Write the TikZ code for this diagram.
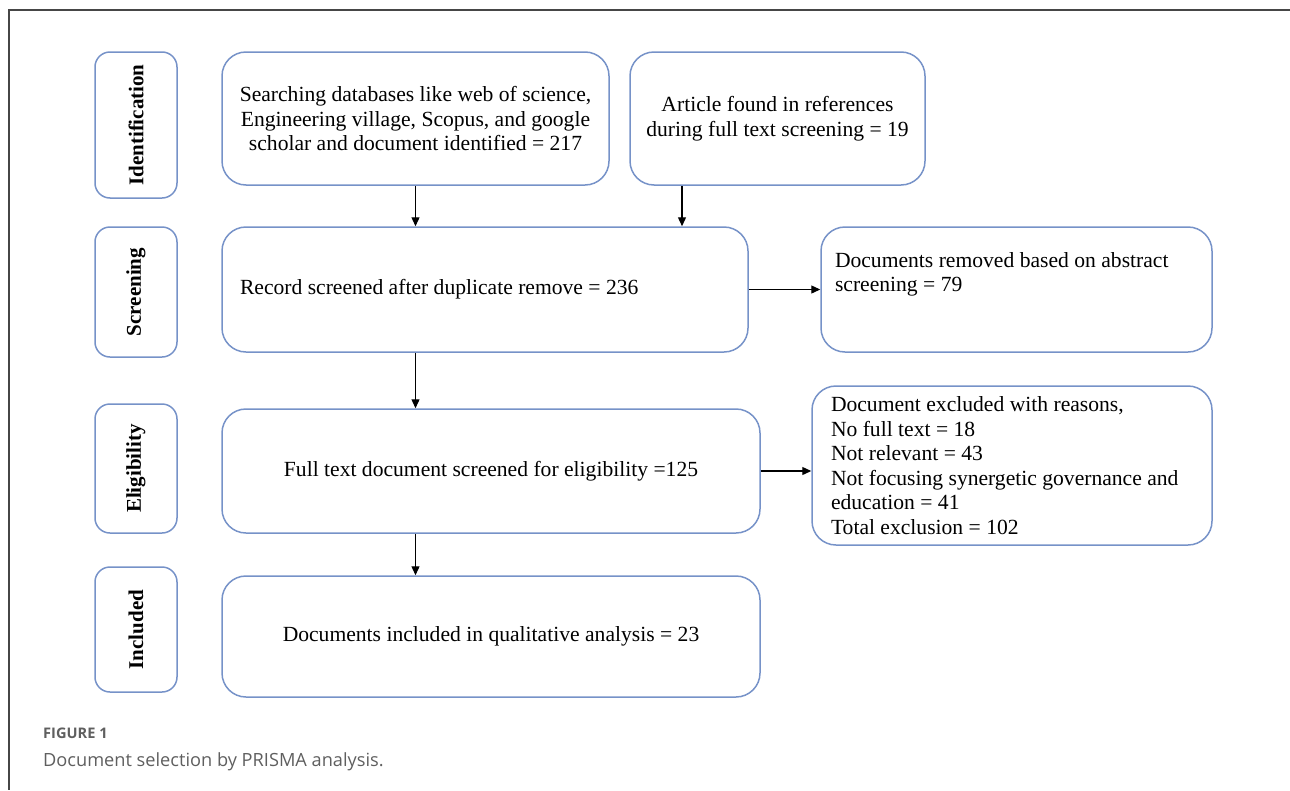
\documentclass[tikz,border=0pt]{standalone}
\usepackage{fontspec}
\setmainfont{Liberation Serif}
\newfontfamily\capfont{Open Sans}
\usetikzlibrary{arrows.meta,calc}
\definecolor{boxblue}{RGB}{118,146,200}
\definecolor{capgray}{RGB}{95,95,95}
\definecolor{framegray}{RGB}{70,70,70}
\newcommand{\lefttext}[2]{\parbox[c]{#1}{\raggedright #2}}
\begin{document}
\begin{tikzpicture}[x=1pt,y=-1pt,
  every node/.style={font=\fontsize{21.6}{24.5}\selectfont, inner sep=0pt},
  stagebox/.style={draw=boxblue, line width=1.5pt, rounded corners=15pt, minimum width=82pt, font=\fontsize{21}{24.5}\selectfont\bfseries},
  bigbox/.style={draw=boxblue, line width=1.5pt, rounded corners=24pt},
  arr/.style={line width=1.3pt, -{Triangle[length=9pt,width=8pt]}}
]
\useasboundingbox (0,0) rectangle (1290,790);
% frame
\draw[framegray, line width=2pt] (1290,10) -- (9,10) -- (9,790);

% stage boxes
\node[stagebox, minimum height=146pt] (sid) at (136,125) {\rotatebox{90}{Identification}};
\node[stagebox, minimum height=130pt] (ssc) at (136,292) {\rotatebox{90}{Screening}};
\node[stagebox, minimum height=129pt] (sel) at (136,468.5) {\rotatebox{90}{Eligibility}};
\node[stagebox, minimum height=125pt] (sin) at (136,629.5) {\rotatebox{90}{Included}};

% main boxes
\node[bigbox, minimum width=387pt, minimum height=133pt, align=center] (A) at (415.5,118.5)
  {Searching databases like web of science,\\Engineering village, Scopus, and google\\scholar and document identified = 217};
\node[bigbox, minimum width=295pt, minimum height=133pt, align=center] (B) at (777.5,118.5)
  {Article found in references\\during full text screening = 19};
\node[bigbox, minimum height=125pt, inner xsep=18pt] (S) at (485,289.5)
  {\lefttext{490pt}{Record screened after duplicate remove = 236}};
\node[bigbox, minimum height=125pt, inner xsep=14pt] (R) at (1016.5,289.5)
  {\lefttext{363pt}{Documents removed based on abstract\\screening = 79\\[10pt]\mbox{}}};
\node[bigbox, minimum width=538pt, minimum height=124pt, align=center] (E) at (491,471)
  {Full text document screened for eligibility =125};
\node[bigbox, minimum height=159pt, inner xsep=19pt] (X) at (1012,465.5)
  {\lefttext{362pt}{Document excluded with reasons,\\No full text = 18\\Not relevant = 43\\Not focusing synergetic governance and\\education = 41\\Total exclusion = 102}};
\node[bigbox, minimum width=538pt, minimum height=121pt, align=center] (I) at (491,636.5)
  {Documents included in qualitative analysis = 23};

% arrows
\draw[arr] (A.south) -- (A.south |- S.north);
\draw[arr] ([xshift=-95.5pt]B.south) -- ([xshift=-95.5pt]B.south |- S.north);
\draw[arr] (S.east) -- (R.west);
\draw[arr] (S.south -| A.south) -- (E.north -| A.south);
\draw[arr] (E.east) -- (E.east -| X.west);
\draw[arr] (E.south -| A.south) -- (I.north -| A.south);

% caption
\node[anchor=west, text=capgray, font=\capfont\fontsize{14.6}{17}\selectfont\bfseries] (cap1) at (43,733) {FIGURE 1};
\node[anchor=west, text=capgray, font=\capfont\fontsize{18.2}{21}\selectfont] (cap2) at (43,762) {Document selection by PRISMA analysis.};
\end{tikzpicture}
\end{document}
